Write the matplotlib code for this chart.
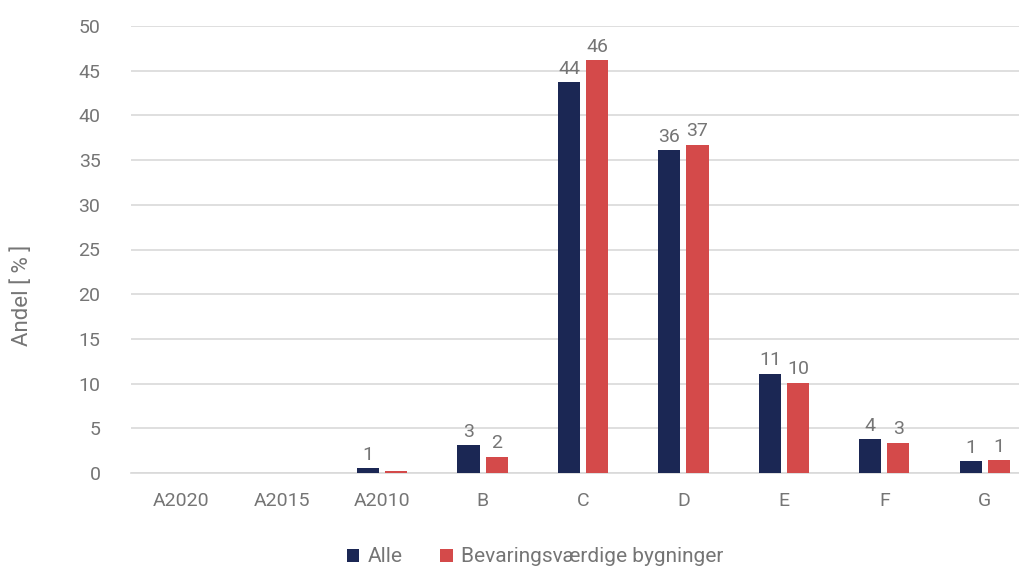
import matplotlib
matplotlib.use("Agg")
import matplotlib.pyplot as plt
import numpy as np

categories = ["A2020", "A2015", "A2010", "B", "C", "D", "E", "F", "G"]
alle = [0.0, 0.05, 0.55, 3.1, 43.7, 36.1, 11.1, 3.8, 1.3]
bevar = [0.0, 0.0, 0.2, 1.8, 46.2, 36.7, 10.1, 3.4, 1.45]
alle_labels = ["", "", "1", "3", "44", "36", "11", "4", "1"]
bevar_labels = ["", "", "", "2", "46", "37", "10", "3", "1"]
yticks = [0, 5, 10, 15, 20, 25, 30, 35, 40, 45, 50]

navy = "#1b2754"
red = "#d44a4a"
grey = "#757575"

plt.rcParams['font.family'] = ['Roboto', 'DejaVu Sans']
plt.rcParams['font.weight'] = 'normal'

fig = plt.figure(figsize=(10.19, 5.70), dpi=100)
ax = fig.add_axes([131/1019, 1-473/570, 904/1019, 447/570])

x = np.arange(len(categories))
w = 0.22
off = 0.14
b1 = ax.bar(x - off, alle, w, color=navy, label="Alle", zorder=3)
b2 = ax.bar(x + off, bevar, w, color=red, label="Bevaringsværdige bygninger", zorder=3)

for rect, lab in zip(b1, alle_labels):
    if lab:
        ax.text(rect.get_x() + rect.get_width()/2, rect.get_height() + 0.5, lab,
                ha="center", va="bottom", fontsize=14, color=grey)
for rect, lab in zip(b2, bevar_labels):
    if lab:
        ax.text(rect.get_x() + rect.get_width()/2, rect.get_height() + 0.5, lab,
                ha="center", va="bottom", fontsize=14, color=grey)

ax.set_xlim(-0.5, len(categories) - 0.5)
ax.set_ylim(0, 50)
ax.set_yticks(yticks)
ax.set_xticks(x)
ax.set_xticklabels(categories)
ax.tick_params(axis="both", length=0, labelsize=14, colors=grey)
ax.tick_params(axis="x", pad=14)
ax.tick_params(axis="y", pad=22)
ax.yaxis.grid(True, color="#d9d9d9", linewidth=1.2, zorder=0)
for s in ["top", "right", "left"]:
    ax.spines[s].set_visible(False)
ax.spines["bottom"].set_color("#d9d9d9")
ax.spines["bottom"].set_linewidth(1.2)

fig.text(22/1019, 1-295/570, "Andel [ % ]", rotation=90, ha="center", va="center",
         fontsize=16, color=grey)

leg = fig.legend(handles=[b1, b2], loc="center", bbox_to_anchor=(535/1019, 1-557/570),
                 ncol=2, frameon=False, fontsize=15, handlelength=0.6, handleheight=0.6,
                 handletextpad=0.4, columnspacing=1.8)
for t in leg.get_texts():
    t.set_color(grey)

fig.savefig("out.png", dpi=100)
